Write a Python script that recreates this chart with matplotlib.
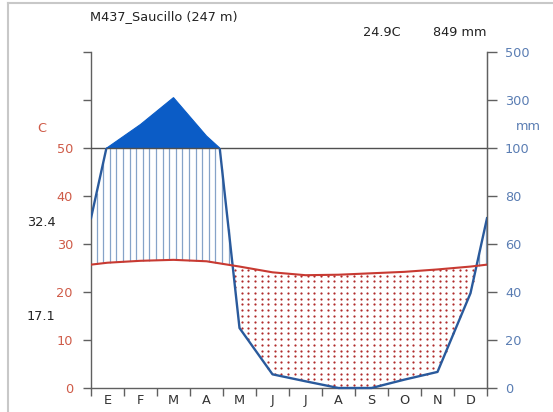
import numpy as np
import matplotlib.pyplot as plt
from matplotlib.patches import Rectangle, Polygon
from matplotlib.lines import Line2D

plt.rcParams['font.family'] = ['DejaVu Sans']

# datos mensuales (lectura del diagrama)
meses = ['E', 'F', 'M', 'A', 'M', 'J', 'J', 'A', 'S', 'O', 'N', 'D']
temp = [26.1, 26.5, 26.7, 26.4, 25.3, 24.1, 23.5, 23.6, 23.9, 24.2, 24.7, 25.3]
prec = [102, 198, 310, 150, 25, 5.7, 2.8, 0, 0, 3.5, 6.7, 39.5]
etiquetas_mm = ['0', '20', '40', '60', '80', '100', '300', '500']
titulo = "M437_Saucillo (247 m)"
t_media = "24.9C"
p_total = "849 mm"
t_max_abs = "32.4"
t_min_abs = "17.1"

W, H = 553, 412
FS = 9.3
fig = plt.figure(figsize=(W / 100, H / 100), dpi=100)
ax = fig.add_axes([91 / W, (H - 388) / H, 396 / W, 336 / H])
ax.set_xlim(0, 12)
ax.set_ylim(0, 70)

# escala de Walter-Lieth: 10 C = 20 mm
xm = np.arange(12) + 0.5
xe = np.concatenate([[0], xm, [12]])
t = np.array(temp)
p = np.array(prec) / 2.0
t_e = np.concatenate([[(t[-1] + t[0]) / 2], t, [(t[-1] + t[0]) / 2]])
p_e = np.concatenate([[(p[-1] + p[0]) / 2], p, [(p[-1] + p[0]) / 2]])

azul_linea = '#2a5a9c'
rojo = '#c83a32'

# rayado del periodo humedo y punteado del periodo seco
xs = np.arange(0.17, 12, 0.2)
ti = np.interp(xs, xe, t_e)
pi = np.interp(xs, xe, p_e)
hum = pi > ti
ax.vlines(xs[hum], ti[hum], np.minimum(pi[hum], 50), color='#86a3c8', lw=0.9, zorder=2)

dx, dy = [], []
for x0, a, b in zip(xs, pi, ti):
    for y0 in np.arange(0.6, 40, 1.2):
        if a < y0 < b:
            dx.append(x0)
            dy.append(y0)
ax.plot(dx, dy, ls='none', marker='o', ms=1.6, mec='none', mfc='#b02a2a', zorder=2)

# precipitaciones > 100 mm (escala reducida)
xd = np.linspace(0, 12, 2401)
pd_ = np.interp(xd, xe, p_e)
sobre = np.where(pd_ >= 50)[0]
x_l, x_r = xd[sobre[0]], xd[sobre[-1]]
verts = [(x_l, 50)]
for i in range(12):
    if prec[i] > 100:
        verts.append((xm[i], 50 + (prec[i] - 100) / 20.0))
verts.append((x_r, 50))
ax.add_patch(Polygon(verts, closed=True, fc='#0b5cc6', ec='#0b5cc6', lw=0.8, zorder=3))

ax.axhline(50, color='#505050', lw=1.0, zorder=4)

clip = Rectangle((0, -1), 12, 51, transform=ax.transData)
lp, = ax.plot(xe, p_e, color=azul_linea, lw=1.7, zorder=5)
lp.set_clip_path(clip)
ax.plot(xe, t_e, color=rojo, lw=1.5, zorder=5)

# ejes
ax.spines['top'].set_visible(False)
for s in ['left', 'right', 'bottom']:
    ax.spines[s].set_color('#606060')
    ax.spines[s].set_linewidth(1.0)

ax.set_yticks(np.arange(0, 71, 10))
ax.set_yticklabels(['0', '10', '20', '30', '40', '50', '', ''])
ax.tick_params(axis='y', left=True, right=False, length=6, width=1, color='#606060',
               pad=7, labelsize=FS, labelcolor='#cf5b48')

ax2 = ax.twinx()
ax2.set_ylim(0, 70)
ax2.set_yticks(np.arange(0, 71, 10))
ax2.set_yticklabels(etiquetas_mm)
ax2.tick_params(axis='y', length=7, width=1, color='#606060', pad=6,
                labelsize=FS, labelcolor='#5a7db3')
for s in ['top', 'left', 'bottom']:
    ax2.spines[s].set_visible(False)
ax2.spines['right'].set_color('#606060')

ax.set_xticks(np.arange(0, 13, 1))
ax.set_xticklabels([])
ax.set_xticks(xm, minor=True)
ax.set_xticklabels(meses, minor=True)
ax.tick_params(axis='x', which='major', length=6, width=1, color='#606060')
ax.tick_params(axis='x', which='minor', length=0, pad=4, labelsize=FS, labelcolor='#333333')


def txt(x, y, s, **kw):
    fig.text(x / W, 1 - y / H, s, va='center', fontsize=FS, **kw)


txt(90, 17, titulo, color='#222222')
txt(363, 32, t_media, color='#222222')
txt(433, 32, p_total, color='#222222')
txt(42, 128, 'C', color='#cf5b48', ha='center')
txt(516, 126, 'mm', color='#5a7db3')
txt(27, 222, t_max_abs, color='#222222')
txt(27, 317, t_min_abs, color='#222222')

# marco
fig.add_artist(Line2D([8 / W, 8 / W], [0, 1 - 3 / H], color='#c8c8c8', lw=1.5))
fig.add_artist(Line2D([8 / W, 1], [1 - 3 / H, 1 - 3 / H], color='#c8c8c8', lw=1.5))

fig.savefig('out.png', dpi=100)
